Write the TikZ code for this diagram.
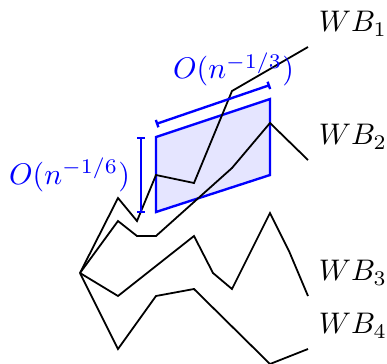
\documentclass[tikz,border=0pt]{standalone}
\usetikzlibrary{arrows.meta}
\begin{document}
\begin{tikzpicture}[x=0.0118cm, y=-0.0118cm, semithick,
    walk/.style={black},
    band/.style={blue, thick, fill=blue!10},
    ruler/.style={blue, thick, {Bar[width=2.6pt]}-{Bar[width=2.6pt]}}]
    \useasboundingbox (0,0) rectangle (387,364);
    % 1. shaded window (bottom layer)
    \draw[band] (156,212) -- (156,137) -- (270,99) -- (270,175) -- cycle;

    % 2. the four walks
    \draw[walk] (80,273) -- (118,198) -- (137,221) -- (156,175) -- (194,183) -- (232,91) -- (308,47)
        node[above right] (wb1) {$WB_1$};
    \draw[walk] (80,273) -- (118,221) -- (137,236) -- (156,236) -- (232,168) -- (270,123) -- (308,160)
        node[above right] (wb2) {$WB_2$};
    \draw[walk] (80,273) -- (118,296) -- (194,236) -- (213,273) -- (232,289) -- (270,213) -- (289,251) -- (308,296)
        node[above right] (wb3) {$WB_3$};
    \draw[walk] (80,273) -- (118,349) -- (156,296) -- (194,289) -- (270,364) -- (308,349)
        node[above right] (wb4) {$WB_4$};

    % 3. size rulers
    \draw[ruler] (141,213) -- (141,137) node[midway, left] (height) {$O(n^{-1/6})$};
    \draw[ruler] (156,124) -- (270,85) node[pos=0.68, above] (width) {$O(n^{-1/3})$};
\end{tikzpicture}
\end{document}
